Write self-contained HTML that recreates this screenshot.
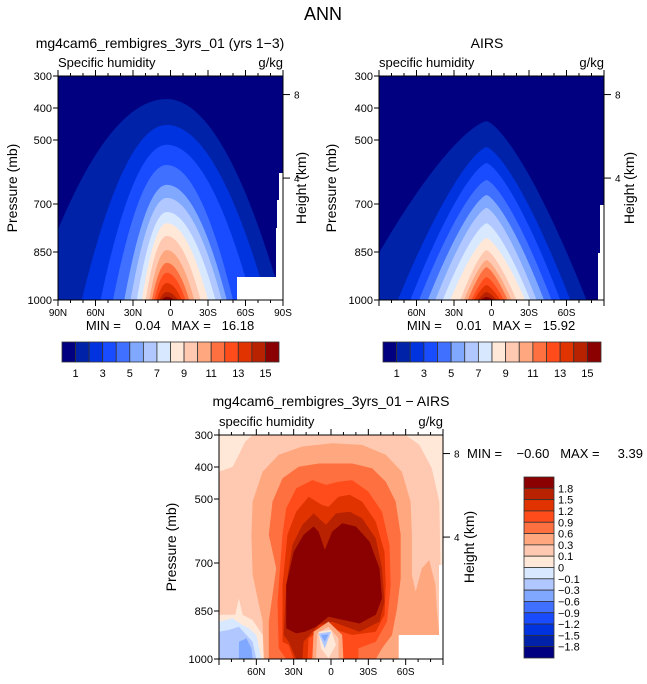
<!DOCTYPE html>
<html><head><meta charset="utf-8"><style>
html,body{margin:0;padding:0;background:#fff;}
svg{display:block;font-family:"Liberation Sans",sans-serif;}
</style></head><body>
<svg id="chart" width="647" height="684" viewBox="0 0 647 684" xmlns="http://www.w3.org/2000/svg">
<text x="323" y="20" font-size="18" text-anchor="middle">ANN</text>
</svg>
<script>
const colors=["#000080","#0022a8","#0033e0","#1a4cff","#4070ff","#80a8ff","#b0c8ff","#d8e8ff","#ffe8d8","#ffc8b0","#ffa880","#ff7040","#ff4c1a","#e03300","#b82200","#8b0000"];
const pressureTicks=[300,400,500,700,850,1000];
const heightTicks=[8,4];
const heightTickPressures=[358,619];
const latLabels1=["90N","60N","30N","0","30S","60S","90S"];
const latLabelVals1=[90,60,30,0,-30,-60,-90];
const latLabels2=["60N","30N","0","30S","60S"];
const latLabelVals2=[60,30,0,-30,-60];
const cbLabels1=["1","3","5","7","9","11","13","15"];
const cbLabelsDiff=["1.8","1.5","1.2","0.9","0.6","0.3","0.1","0","\u22120.1","\u22120.3","\u22120.6","\u22120.9","\u22121.2","\u22121.5","\u22121.8"];
// panel 1 (model) contour domes: peak pressure, half-width N/S at 1000 mb
const p1Peak=[372,453,515,578,640,681,725,760,800,844,884,915,947,975,990];
const p1WidthN=[108,68,53,43,34,29,24,20,17,14,12,10,8,6,4];
const p1WidthS=[92,80,68,53,48,44,39,33,27,22,18,15,12,9,6];
// panel 2 (AIRS)
const p2Peak=[441,522,572,625,672,712,760,806,844,875,897,928,953,975,990];
const p2WidthN=[107,71,61,54,47,41,35,29,21,18,15,12,10,7,5];
const p2WidthS=[80,67,59,52,46,40,35,31,24,20,17,14,11,8,6];
// panel 3 (difference) regions [lat,p]
const diff9=[[90,415],[79,399],[74,362],[69,321],[63,300],[-60,300],[-71,331],[-81,404],[-87,508],[-88,717],[-88,1000],[90,1000]];
const diff10=[[54,1000],[55,883],[63,737],[64,612],[63,508],[55,415],[42,362],[23,336],[-1,326],[-25,331],[-44,362],[-57,415],[-64,508],[-65,612],[-65,737],[-68,790],[-73,717],[-79,691],[-84,769],[-85,842],[-87,925],[-54,925],[-54,1000]];
const diff11=[[50,1000],[50,883],[44,717],[50,612],[47,508],[39,435],[26,399],[10,389],[-17,389],[-33,404],[-44,446],[-52,508],[-56,612],[-56,748],[-53,842],[-49,925],[-41,967],[-36,1000]];
const diff12=[[42,967],[43,821],[39,612],[36,529],[28,467],[15,441],[4,456],[-6,446],[-17,441],[-30,477],[-41,540],[-47,644],[-48,769],[-45,883],[-36,946],[-22,967],[-22,1000],[36,1000]];
const diff13=[[39,946],[39,769],[35,612],[28,540],[18,493],[7,519],[2,524],[-6,493],[-15,487],[-25,508],[-36,571],[-43,665],[-44,769],[-43,862],[-36,915],[-17,925],[4,899],[18,935],[19,1000],[30,1000],[34,956]];
const diff14=[[38,925],[36,769],[31,644],[23,581],[14,545],[4,581],[-4,545],[-15,540],[-25,560],[-36,623],[-41,717],[-43,821],[-39,883],[-23,915],[-1,883],[10,894],[22,946],[23,1000],[28,1000],[34,946]];
const diff15=[[36,904],[36,769],[30,665],[22,612],[14,586],[10,602],[5,659],[-1,602],[-9,576],[-20,586],[-31,633],[-39,717],[-41,810],[-36,862],[-23,889],[2,868],[12,899],[21,915],[28,920]];
const blob10=[[14,915],[2,883],[-9,925],[-10,1000],[15,1000]];
const blob9=[[11,920],[2,899],[-6,935],[-6,1000],[12,1000]];
const blob8=[[10,915],[0,909],[-4,956],[2,998],[8,967]];
const blob6=[[10,920],[0,915],[5,967]];
const blob5=[[8,925],[2,923],[5,946]];
const left8=[[90,862],[77,862],[74,810],[71,862],[63,878],[55,925],[54,1000],[90,1000]];
const left7=[[90,883],[79,873],[71,894],[66,904],[60,925],[56,1000],[90,1000]];
const left6=[[90,915],[82,909],[74,899],[68,925],[63,946],[60,1000],[90,1000]];
const left5=[[74,946],[68,935],[64,967],[63,1000],[74,1000]];

const NS="http://www.w3.org/2000/svg";
const svg=document.getElementById('chart');
function mk(tag,attrs,parent){const e=document.createElementNS(NS,tag);for(const k in attrs)e.setAttribute(k,attrs[k]);(parent||svg).appendChild(e);return e;}
function xS(P,lat){return P.x0+(90-lat)/180*P.w;}
function yS(P,p){return P.y0+(p-300)/700*P.h;}

function domePath(P,peak,wN,wS,c,n){
  let pts=[];
  for(let lat=90;lat>=-90;lat-=1){
    const d=Math.abs(lat-c), w=lat>=c?wN:wS;
    let p=peak+(1000-peak)*Math.pow(d/w,n);
    if(p>1000)p=1000;
    pts.push(xS(P,lat).toFixed(1)+","+yS(P,p).toFixed(1));
  }
  return "M"+xS(P,90)+","+yS(P,1000)+" L"+pts.join(" L")+" L"+xS(P,-90)+","+yS(P,1000)+"Z";
}
function polyPath(P,arr){return "M"+arr.map(q=>xS(P,q[0]).toFixed(1)+","+yS(P,q[1]).toFixed(1)).join(" L")+"Z";}

function axes(P,latVals,latLabs,yLabX,hkX){
  const g=mk('g',{});
  
  
  mk('rect',{x:P.x0,y:P.y0,width:P.w,height:P.h,fill:'none',stroke:'#000','stroke-width':1},g);
  for(let lat=-90;lat<=90;lat+=10){
    const x=xS(P,lat), major=lat%30===0, L=major?6:3;
    mk('line',{x1:x,x2:x,y1:P.y0,y2:P.y0-L,stroke:'#000'},g);
    mk('line',{x1:x,x2:x,y1:P.y0+P.h,y2:P.y0+P.h+L,stroke:'#000'},g);
  }
  latVals.forEach((v,i)=>{const t=mk('text',{x:xS(P,v),y:P.y0+P.h+16,'font-size':10,'text-anchor':'middle'},g);t.textContent=latLabs[i];
    });
  pressureTicks.forEach(p=>{const y=yS(P,p);
    mk('line',{x1:P.x0,x2:P.x0-5,y1:y,y2:y,stroke:'#000'},g);
    const t=mk('text',{x:yLabX,y:y+4,'font-size':11,'text-anchor':'end'},g);t.textContent=p;
    });
  heightTicks.forEach((h,i)=>{const y=yS(P,heightTickPressures[i]);
    mk('line',{x1:P.x0+P.w,x2:P.x0+P.w+7,y1:y,y2:y,stroke:'#000'},g);
    const t=mk('text',{x:P.x0+P.w+11,y:y+4,'font-size':10},g);t.textContent=h;
    });
  const cy=P.y0+P.h/2;
  const yt=mk('text',{x:0,y:0,'font-size':14,'text-anchor':'middle',transform:`translate(${P.yTitleX},${cy}) rotate(-90)`},g);yt.textContent="Pressure (mb)";
  
  const ht=mk('text',{x:0,y:0,'font-size':14,'text-anchor':'middle',transform:`translate(${hkX},${cy}) rotate(-90)`},g);ht.textContent="Height (km)";
  
}

function hbar(x0,y0,w,h,labels,name){
  const g=mk('g',{});
  
  
  const bw=w/16;
  colors.forEach((c,i)=>{const r=mk('rect',{x:x0+i*bw,y:y0,width:bw,height:h,fill:c,stroke:'#333','stroke-width':0.8},g);
    });
  labels.forEach((l,i)=>{const t=mk('text',{x:x0+(2*i+1)*bw,y:y0+h+15,'font-size':11,'text-anchor':'middle'},g);t.textContent=l;
    });
}
function txt(x,y,s,size,anchor,name){const t=mk('text',{x:x,y:y,'font-size':size,'text-anchor':anchor||'start'});t.textContent=s;
  return t;}

const P1={x0:58,y0:76,w:225,h:224,name:'model-panel',yTitleX:17};
const P2={x0:379,y0:76,w:225,h:224,name:'airs-panel',yTitleX:336};
const P3={x0:219,y0:435,w:224,h:224,name:'diff-panel',yTitleX:176};

function domes(P,peaks,wN,wS,c,n){
  const g=mk('g',{});
  
  
  mk('rect',{x:P.x0,y:P.y0,width:P.w,height:P.h,fill:colors[0]},g);
  peaks.forEach((pk,i)=>{const e=mk('path',{d:domePath(P,pk,wN[i],wS[i],c,n),fill:colors[i+1]},g);
    });
  return g;
}
const g1=domes(P1,p1Peak,p1WidthN,p1WidthS,3,2);
mk('rect',{x:237,y:277,width:46,height:23,fill:'#fff'},g1);
mk('rect',{x:279,y:173,width:4,height:127,fill:'#fff'},g1);
mk('rect',{x:277,y:200,width:6,height:100,fill:'#fff'},g1);
mk('rect',{x:276,y:228,width:7,height:72,fill:'#fff'},g1);
const g2=domes(P2,p2Peak,p2WidthN,p2WidthS,4,1.4);
mk('rect',{x:600,y:205,width:4,height:95,fill:'#fff'},g2);
mk('rect',{x:598,y:253,width:6,height:47,fill:'#fff'},g2);

const g3=mk('g',{});


mk('rect',{x:P3.x0,y:P3.y0,width:P3.w,height:P3.h,fill:colors[8]},g3);
[[diff9,9],[diff10,10],[diff11,11],[diff12,12],[diff13,13],[diff14,14],[diff15,15],[blob10,10],[blob9,9],[blob8,8],[blob6,6],[blob5,5],[left8,8],[left7,7],[left6,6],[left5,5]].forEach(r=>{
  const e=mk('path',{d:polyPath(P3,r[0]),fill:colors[r[1]]},g3);
  
  
});
mk('rect',{x:399,y:635,width:44,height:24,fill:'#fff'},g3);
mk('rect',{x:439,y:565,width:4,height:94,fill:'#fff'},g3);

axes(P1,latLabelVals1,latLabels1,52,306);
axes(P2,latLabelVals2,latLabels2,373,634);
axes(P3,latLabelVals2,latLabels2,213,474);

txt(160,48,"mg4cam6_rembigres_3yrs_01 (yrs 1\u22123)",14,"middle","model-panel-title");
txt(487,48,"AIRS",14,"middle","airs-panel-title");
txt(331,406,"mg4cam6_rembigres_3yrs_01 \u2212 AIRS",14,"middle","diff-panel-title");
txt(58,67,"Specific humidity",13,"start","model-variable-label");
txt(283,67,"g/kg",13,"end","model-units-label");
txt(379,67,"specific humidity",13,"start","airs-variable-label");
txt(604,67,"g/kg",13,"end","airs-units-label");
txt(219,426,"specific humidity",13,"start","diff-variable-label");
txt(443,426,"g/kg",13,"end","diff-units-label");
const m1=txt(170,330,"MIN =    0.04   MAX =   16.18",13,"middle","model-min-max");m1.style.whiteSpace='pre';
const m2=txt(491,330,"MIN =    0.01   MAX =   15.92",13,"middle","airs-min-max");m2.style.whiteSpace='pre';
const m3=txt(467,458,"MIN =    \u22120.60   MAX =     3.39",13,"start","diff-min-max");m3.style.whiteSpace='pre';

hbar(62,342,217,20,cbLabels1,"model-colorbar");
hbar(383,342,218,20,cbLabels1,"airs-colorbar");

const gv=mk('g',{});


const vbh=(658-477)/16;
colors.slice().reverse().forEach((c,i)=>{const r=mk('rect',{x:524,y:477+i*vbh,width:30,height:vbh,fill:c,stroke:'#333','stroke-width':0.8},gv);
  });
cbLabelsDiff.forEach((l,i)=>{const t=mk('text',{x:558,y:477+(i+1)*vbh+4,'font-size':11},gv);t.textContent=l;
  });
</script>
</body></html>
